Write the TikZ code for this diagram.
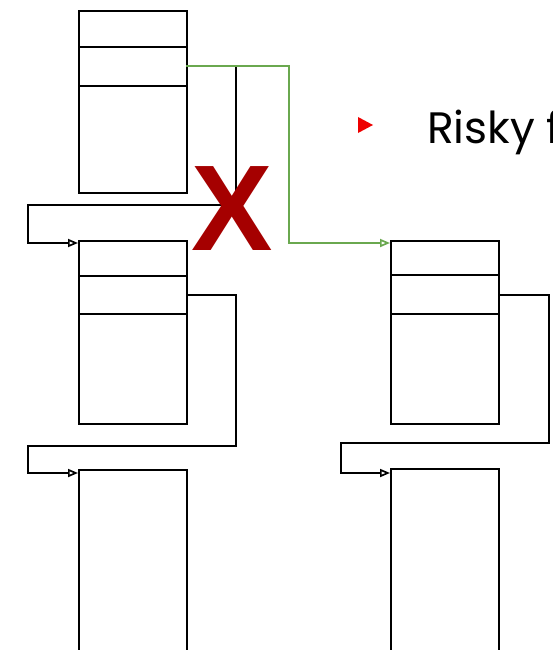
\documentclass[tikz,border=0pt]{standalone}
\usepackage{fontspec}
\setmainfont{Poppins}
\setsansfont{Liberation Sans}
\usetikzlibrary{arrows.meta}
\definecolor{linkgreen}{RGB}{106,168,79}
\definecolor{crossred}{RGB}{165,0,0}
\definecolor{bulletred}{RGB}{238,0,0}
\tikzset{
  blk/.style={draw=black, line width=1.7pt, anchor=north west, minimum width=108pt, inner sep=0pt, fill=white},
  link/.style={draw=black, line width=1.7pt, -{Triangle[open, length=10pt, width=8pt]}},
  greenlink/.style={draw=linkgreen, line width=1.7pt, -{Triangle[open, length=10pt, width=8pt]}},
  divider/.style={line width=1.7pt}
}
\begin{document}
\begin{tikzpicture}[x=1pt, y=-1pt]
\clip (0,0) rectangle (552,650);
\fill[white] (0,0) rectangle (552,650);

% left column
\node[blk, minimum height=182pt] (A) at (78,10) {};
\node[blk, minimum height=183pt] (B) at (78,240) {};
\node[blk, minimum height=200pt] (C) at (78,469) {};
% right column
\node[blk, minimum height=183pt] (D) at (390,240) {};
\node[blk, minimum height=200pt] (E) at (390,468) {};

% header dividers
\draw[divider] (78,47) -- (186,47);
\draw[divider] (78,86) -- (186,86);
\draw[divider] (78,276) -- (186,276);
\draw[divider] (78,314) -- (186,314);
\draw[divider] (390,275) -- (499,275);
\draw[divider] (390,314) -- (499,314);

% pointer origins
\coordinate (pA) at (186,66);
\coordinate (pB) at (186,295);
\coordinate (pD) at (499,295);

% old link A -> B
\draw[link] (pA) -- (236,66) -- (236,205) -- (28,205) -- (28,243) -- (B.west |- 0,243);
% B -> C
\draw[link] (pB) -- (236,295) -- (236,446) -- (28,446) -- (28,473) -- (C.west |- 0,473);
% D -> E
\draw[link] (pD) -- (549,295) -- (549,443) -- (341,443) -- (341,473) -- (E.west |- 0,473);
% new link A -> D
\draw[greenlink] (pA) -- (289,66) -- (289,243) -- (D.west |- 0,243);

% cross over the old link
\node[text=crossred, font=\fontsize{122}{122}\sffamily\bfseries, inner sep=0pt, anchor=base] (cross) at (232,250) {X};

% bullet text
\fill[bulletred] (358,117) -- (373,125) -- (358,133) -- cycle;
\node[font=\fontsize{44}{44}\selectfont, inner sep=0pt, anchor=base west] (risk) at (427,143) {Risky f};
\end{tikzpicture}
\end{document}
